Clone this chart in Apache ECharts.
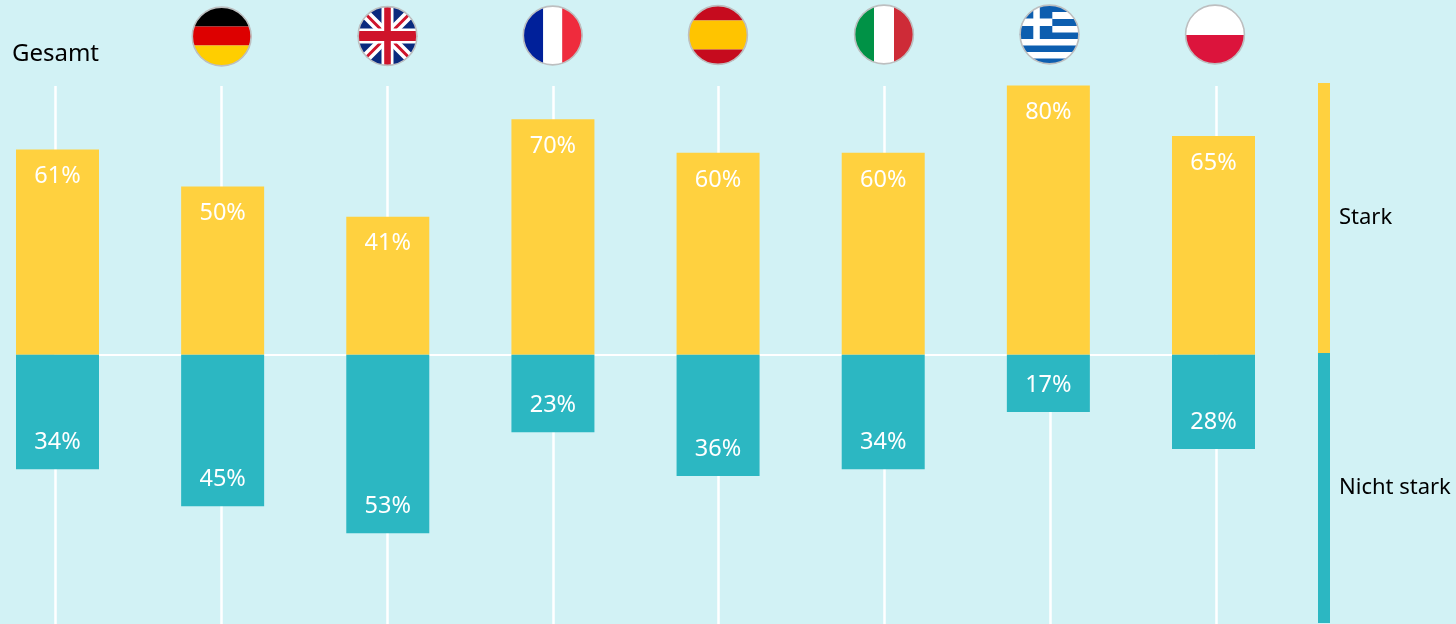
<!DOCTYPE html>
<html><head><meta charset="utf-8">
<style>html,body{margin:0;padding:0;background:#D2F2F5}#c{width:1456px;height:624px}</style>
<script src="https://cdn.jsdelivr.net/npm/echarts@6/dist/echarts.min.js"></script>
</head><body><div id="c"></div>
<script>
const categories = ['Gesamt','Deutschland','Großbritannien','Frankreich','Spanien','Italien','Griechenland','Polen'];
const headLabels = ['Gesamt','','','','','','',''];
const stark = [61,50,41,70,60,60,80,65];
const nichtStark = [34,45,53,23,36,34,17,28];
const seriesNames = ['Stark','Nicht stark'];
const keyExtent = [80,80];

const YEL='#FFD13F', TEAL='#2CB7C2', BG='#D2F2F5';
const FONT='"Noto Sans"';

function flag(inner){
  const svg=`<svg xmlns="http://www.w3.org/2000/svg" width="62" height="62" viewBox="0 0 62 62"><defs><clipPath id="k"><circle cx="31" cy="31" r="29.6"/></clipPath></defs><g clip-path="url(#k)">${inner}</g><circle cx="31" cy="31" r="29.4" fill="none" stroke="#BDBFC0" stroke-width="1.6"/></svg>`;
  return 'data:image/svg+xml;charset=utf-8,'+encodeURIComponent(svg);
}
const r=(x,y,w,h,f)=>`<rect x="${x}" y="${y}" width="${w}" height="${h}" fill="${f}"/>`;
const GB='#0D5EAF';
const flags=[
 {cx:221.7,cy:36.5,svg:flag(r(0,0,62,21,'#000')+r(0,21,62,19,'#DD0000')+r(0,40,62,22,'#FFCE00'))},
 {cx:387.5,cy:36,svg:flag(r(0,0,62,62,'#0A2A7E')+
   '<path d="M0 0L62 62M62 0L0 62" stroke="#fff" stroke-width="10"/><path d="M0 0L62 62M62 0L0 62" stroke="#CF142B" stroke-width="3"/>'+
   r(25,0,12,62,'#fff')+r(0,23.5,62,15,'#fff')+r(27.7,0,6.6,62,'#CF142B')+r(0,26,62,10,'#CF142B'))},
 {cx:552.7,cy:35.5,svg:flag(r(0,0,21.5,62,'#00209A')+r(21.5,0,19,62,'#fff')+r(40.5,0,21.5,62,'#EF2B3D'))},
 {cx:718,cy:35,svg:flag(r(0,0,62,16.5,'#C60B1E')+r(0,16.5,62,29,'#FFC400')+r(0,45.5,62,16.5,'#C60B1E'))},
 {cx:884,cy:34.5,svg:flag(r(0,0,21,62,'#009246')+r(21,0,20,62,'#fff')+r(41,0,21,62,'#CE2B37'))},
 {cx:1049.5,cy:34.5,svg:flag(r(0,0,62,62,'#fff')+r(0,0,62,8.5,GB)+r(0,15.5,62,7,GB)+r(0,29,62,6.5,GB)+r(0,42,62,6.5,GB)+r(0,55,62,7,GB)+r(0,0,33.8,35.5,GB)+r(0,15,33.8,7.5,'#fff')+r(14.8,0,6.5,35.5,'#fff'))},
 {cx:1215,cy:34.5,svg:flag(r(0,0,62,31.5,'#fff')+r(0,31.5,62,31,'#DC143C'))}
];

const chart=echarts.init(document.getElementById('c'),null,{renderer:'canvas'});
const valAxis=(i)=>({type:'value',gridIndex:i,min:-80,max:80,show:false});
const labelBase={show:true,color:'#fff',fontFamily:FONT,fontSize:23.5,formatter:p=>Math.abs(p.value)+'%'};
const keyLabel={show:true,position:'right',distance:9,color:'#000',fontFamily:FONT,fontSize:22,formatter:'{a}'};
chart.setOption({
  animation:false,
  backgroundColor:BG,
  grid:[
    {left:55.5,width:1160.5,top:86,height:540},
    {left:57.5,width:1156,top:85.5,height:541},
    {left:1318,width:12,top:83,height:540}
  ],
  xAxis:[
    {type:'category',gridIndex:0,position:'top',boundaryGap:false,data:headLabels,
     axisLine:{show:false},axisTick:{show:false},
     axisLabel:{show:true,interval:0,color:'#000',fontFamily:FONT,fontSize:24,margin:20},
     splitLine:{show:true,interval:0,lineStyle:{color:'#fff',width:2.5}}},
    {type:'category',gridIndex:1,boundaryGap:false,data:categories,
     axisLine:{show:true,onZero:true,lineStyle:{color:'#fff',width:2}},axisTick:{show:false},axisLabel:{show:false},splitLine:{show:false}},
    {type:'category',gridIndex:2,data:['Legende'],show:false}
  ],
  yAxis:[valAxis(0),valAxis(1),valAxis(2)],
  series:[
    {name:seriesNames[0],type:'bar',xAxisIndex:1,yAxisIndex:1,stack:'a',barWidth:83,data:stark,
     itemStyle:{color:YEL},label:{...labelBase,position:'insideTop',distance:15}},
    {name:seriesNames[1],type:'bar',xAxisIndex:1,yAxisIndex:1,stack:'a',barWidth:83,data:nichtStark.map(v=>-v),
     itemStyle:{color:TEAL},label:{...labelBase,position:'insideBottom',distance:15}},
    {name:seriesNames[0],type:'bar',xAxisIndex:2,yAxisIndex:2,stack:'k',barWidth:12,data:[keyExtent[0]],
     itemStyle:{color:YEL},label:keyLabel},
    {name:seriesNames[1],type:'bar',xAxisIndex:2,yAxisIndex:2,stack:'k',barWidth:12,data:[-keyExtent[1]],
     itemStyle:{color:TEAL},label:keyLabel}
  ],
  graphic:flags.map(f=>({type:'image',style:{image:f.svg,x:f.cx-31,y:f.cy-31,width:62,height:62}}))
});
</script></body></html>
